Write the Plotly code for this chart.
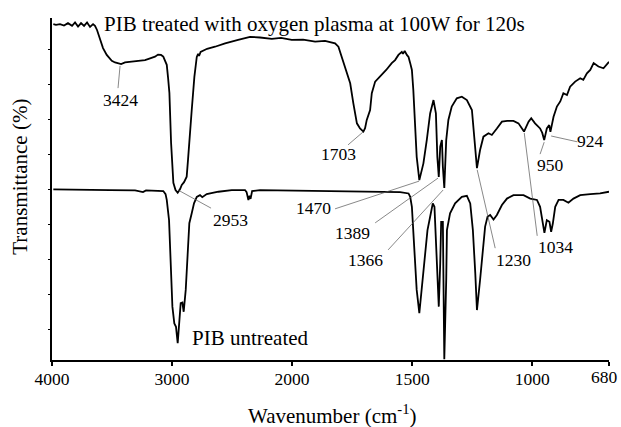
import plotly.graph_objects as go

# ---------------- data ----------------
# PIB treated with oxygen plasma (upper curve): wavenumber (cm-1), transmittance (a.u., 0-100)
treated_w = [3989, 3967, 3933, 3900, 3867, 3833, 3808, 3783, 3758, 3733, 3708, 3683, 3658, 3642,
             3625, 3600, 3575, 3544, 3502, 3475, 3442, 3424, 3392, 3336, 3283, 3225, 3183, 3142,
             3117, 3092, 3073, 3044, 3033, 3022, 3008, 2989, 2971, 2953, 2933, 2919, 2900, 2878,
             2867, 2858, 2836, 2814, 2794, 2783, 2775, 2762, 2742, 2708, 2642, 2558, 2450, 2350,
             2267, 2169, 2092, 2003, 1954, 1904, 1863, 1821, 1807, 1792, 1779, 1758, 1745, 1730,
             1717, 1703, 1696, 1689, 1675, 1668, 1654, 1626, 1608, 1585, 1571, 1557, 1550, 1543,
             1538, 1531, 1522, 1515, 1508, 1501, 1495, 1488, 1481, 1470, 1463, 1453, 1439, 1425,
             1411, 1401, 1395, 1389, 1383, 1376, 1372, 1366, 1358, 1349, 1335, 1314, 1293, 1272,
             1251, 1245, 1238, 1230, 1217, 1203, 1182, 1168, 1147, 1126, 1104, 1078, 1057, 1043,
             1034, 1015, 1004, 988, 967, 958, 950, 939, 929, 924, 911, 897, 883, 870, 855, 842,
             821, 800, 787, 772, 758, 744, 724, 703, 690, 680]
treated_t = [98.2, 98.0, 98.2, 97.8, 98.5, 97.7, 98.7, 97.5, 98.5, 97.7, 98.7, 97.4, 98.2, 97.7,
             96.5, 93.6, 91.2, 89.2, 87.5, 87.0, 86.8, 86.5, 87.0, 87.2, 87.4, 87.7, 88.2, 88.7,
             89.3, 89.2, 88.7, 86.3, 82.5, 78.1, 63.5, 51.8, 49.7, 48.9, 50.0, 51.2, 52.0, 53.6,
             58.5, 63.5, 73.1, 82.8, 88.6, 89.5, 88.9, 90.1, 90.4, 91.0, 91.6, 92.6, 93.6, 94.5,
             94.3, 93.9, 94.2, 93.6, 93.7, 93.1, 93.3, 92.6, 91.6, 88.3, 85.8, 80.9, 75.1, 69.2,
             67.7, 66.8, 67.8, 70.2, 73.1, 78.0, 81.4, 83.3, 84.8, 86.8, 87.7, 89.2, 89.7, 90.1,
             89.5, 90.4, 89.2, 88.6, 86.8, 84.8, 78.9, 69.3, 59.4, 52.6, 54.7, 57.5, 64.3, 72.1,
             76.0, 72.1, 59.4, 53.5, 62.4, 64.3, 56.5, 50.3, 64.3, 70.2, 74.1, 76.5, 77.0, 76.0,
             73.1, 68.2, 61.4, 56.1, 61.4, 65.3, 66.3, 65.8, 67.7, 69.7, 69.9, 69.9, 69.2, 67.7,
             66.8, 69.7, 70.7, 69.2, 67.7, 66.4, 64.3, 67.7, 68.7, 66.7, 71.1, 74.1, 75.6, 78.0,
             77.5, 79.9, 81.4, 82.4, 81.9, 83.8, 84.8, 86.8, 85.8, 85.3, 86.5, 87.2]

# PIB untreated (lower curve)
untreated_w = [3989, 3767, 3517, 3308, 3267, 3242, 3217, 3073, 3054, 3044, 3025, 3008, 2997, 2981,
               2967, 2953, 2939, 2928, 2914, 2903, 2886, 2869, 2856, 2836, 2817, 2794, 2767, 2748,
               2711, 2614, 2503, 2392, 2379, 2364, 2354, 2346, 2333, 2267, 2100, 1967, 1800, 1633,
               1550, 1515, 1508, 1501, 1495, 1488, 1481, 1470, 1460, 1446, 1436, 1425, 1414, 1407,
               1400, 1389, 1383, 1379, 1372, 1366, 1358, 1355, 1342, 1321, 1293, 1272, 1258, 1247,
               1237, 1230, 1217, 1205, 1196, 1186, 1175, 1161, 1147, 1126, 1105, 1078, 1036, 1008,
               980, 967, 955, 949, 939, 928, 921, 914, 904, 890, 870, 849, 828, 800, 758, 717, 680]
untreated_t = [49.9, 49.9, 49.7, 49.6, 49.2, 49.1, 49.6, 49.4, 48.5, 46.8, 40.9, 28.3, 15.6, 10.7,
               9.7, 4.9, 10.7, 16.6, 16.8, 14.1, 20.5, 33.1, 40.0, 42.9, 45.8, 47.7, 48.2, 47.6,
               48.5, 49.2, 49.7, 49.7, 49.1, 46.8, 48.0, 47.1, 49.4, 49.7, 49.6, 49.4, 49.3, 49.2,
               49.1, 48.7, 47.7, 44.8, 38.0, 28.3, 20.5, 13.7, 20.5, 31.2, 38.0, 41.9, 45.8, 44.8,
               33.1, 15.6, 28.3, 40.4, 40.4, 0.2, 23.4, 38.0, 42.9, 45.8, 47.7, 48.0, 45.8, 38.0,
               25.4, 14.6, 23.4, 33.1, 39.0, 41.9, 42.4, 41.1, 42.4, 45.3, 47.2, 48.2, 48.2, 47.2,
               46.8, 44.8, 39.9, 37.2, 40.9, 40.4, 37.5, 39.9, 44.8, 46.8, 46.8, 46.0, 47.2, 48.2,
               48.5, 48.7, 49.2]

# peak labels: text, label position (w, T), leader start (w, T), leader end (w, T)
peak_labels = ["3424", "2953", "1703", "1470", "1389", "1366", "1230", "1034", "950", "924"]
label_w = [3429, 2517, 1808, 1912, 1750, 1696, 1079, 904, 925, 758]
label_t = [76.0, 40.9, 60.2, 44.4, 37.1, 29.2, 29.2, 33.0, 57.0, 64.0]
leader_w0 = [3433, 2950, 1704, 1471, 1392, 1371, 1229, 1033, 950, 921]
leader_t0 = [86.0, 49.7, 66.7, 52.3, 53.2, 49.7, 55.6, 66.4, 63.7, 65.5]
leader_w1 = [3450, 2675, 1767, 1821, 1654, 1600, 1154, 979, 967, 812]
leader_t1 = [79.5, 44.4, 62.9, 44.2, 40.1, 32.2, 32.7, 36.3, 60.2, 63.8]

x_ticks = [4000, 3000, 2000, 1500, 1000, 680]

FONT = "Liberation Serif, Times New Roman, serif"


def xpos(w):
    """FTIR axis with a scale change at 2000 cm-1 (expanded x2 below 2000)."""
    return (4000 - w) if w >= 2000 else 2000 + 2 * (2000 - w)


fig = go.Figure()

fig.add_trace(go.Scatter(x=[xpos(w) for w in treated_w], y=treated_t, mode="lines",
                         line=dict(color="black", width=1.8), showlegend=False))
fig.add_trace(go.Scatter(x=[xpos(w) for w in untreated_w], y=untreated_t, mode="lines",
                         line=dict(color="black", width=1.8), showlegend=False))

for i, lab in enumerate(peak_labels):
    fig.add_trace(go.Scatter(x=[xpos(leader_w0[i]), xpos(leader_w1[i])],
                             y=[leader_t0[i], leader_t1[i]], mode="lines",
                             line=dict(color="#555555", width=0.7), showlegend=False))
    fig.add_annotation(x=xpos(label_w[i]), y=label_t[i], text=lab, showarrow=False,
                       font=dict(family=FONT, size=17.5, color="black"),
                       xanchor="center", yanchor="middle")

fig.add_annotation(x=xpos(3583), y=98.3, text="PIB treated with oxygen plasma at 100W for 120s",
                   showarrow=False, xanchor="left", yanchor="middle",
                   font=dict(family=FONT, size=21, color="black"))
fig.add_annotation(x=xpos(2850), y=6.4, text="PIB untreated", showarrow=False,
                   xanchor="left", yanchor="middle",
                   font=dict(family=FONT, size=21, color="black"))

# last tick (680) sits against the right edge of the page: its mark is a minor tick and
# its label is drawn right-aligned so it stays inside the page
main_ticks = x_ticks[:-1]
fig.add_annotation(x=xpos(x_ticks[-1]), xref="x", yref="paper", y=0, text=str(x_ticks[-1]),
                   showarrow=False, xanchor="right", yanchor="middle", xshift=11, yshift=-17,
                   font=dict(family=FONT, size=17.5, color="black"))

# axis titles
fig.add_annotation(xref="paper", yref="paper", x=0.503, y=-0.16, text="Wavenumber (cm<sup>-1</sup>)",
                   showarrow=False, xanchor="center", yanchor="middle",
                   font=dict(family=FONT, size=21, color="black"))
fig.add_annotation(xref="paper", yref="paper", x=-0.058, y=0.535, text="Transmittance (%)",
                   showarrow=False, textangle=-90, xanchor="center", yanchor="middle",
                   font=dict(family=FONT, size=21, color="black"))

fig.update_layout(
    width=621, height=427,
    margin=dict(l=52, r=12, t=18, b=67),
    paper_bgcolor="white", plot_bgcolor="white",
    font=dict(family=FONT, color="black"),
    xaxis=dict(range=[0, xpos(680)], tickvals=[xpos(v) for v in main_ticks],
               ticktext=[str(v) for v in main_ticks], showline=True, linecolor="black",
               linewidth=2, ticks="outside", ticklen=4, tickwidth=1.5, tickcolor="black",
               minor=dict(tickvals=[xpos(x_ticks[-1])], ticks="outside", ticklen=4,
                          tickwidth=1.5, tickcolor="black", showgrid=False),
               showgrid=False, zeroline=False, tickfont=dict(family=FONT, size=17.5),
               ticklabelstandoff=-2, automargin=False),
    yaxis=dict(range=[0, 100], tick0=8.9, dtick=10.24, tickmode="linear",
               showline=True, linecolor="black", linewidth=2, ticks="outside", ticklen=2,
               tickwidth=1, tickcolor="black", showticklabels=False, showgrid=False,
               zeroline=False, automargin=False),
)

fig.write_html("out.html")
